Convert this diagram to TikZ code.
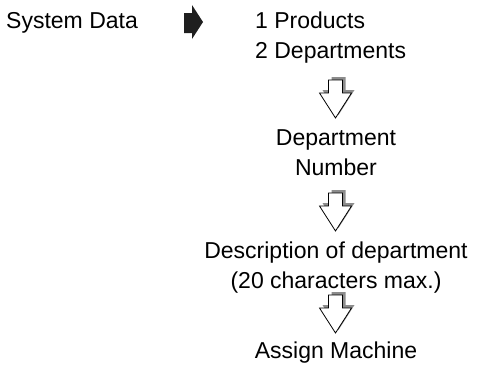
\documentclass[tikz,border=0pt]{standalone}
\usepackage{fontspec}
\setmainfont{Liberation Sans}
\begin{document}
\begin{tikzpicture}[x=1pt,y=-1pt,
  txt/.style={font=\fontsize{23}{27.6}\selectfont, inner sep=0pt},
  hollowarrow/.pic={
    \fill[black!45, shift={(3,-3)}] (-7,0) -- (7,0) -- (7,13) -- (16,13) -- (0,38) -- (-16,13) -- (-7,13) -- cycle;
    \draw[fill=white, line width=0.8pt, line join=miter] (-7,0) -- (7,0) -- (7,13) -- (16,13) -- (0,38) -- (-16,13) -- (-7,13) -- cycle;
  },
  solidarrow/.pic={
    \fill[black!88] (0,-4) -- (8,-4) -- (8,-12) -- (19,5) -- (8,22) -- (8,16) -- (0,16) -- cycle;
  }]
\useasboundingbox (0,0) rectangle (477,365);
\node[txt, anchor=base west] (sys) at (6,28) {System Data};
\node[txt, anchor=base west] (l1) at (255,28) {1 Products};
\node[txt, anchor=base west] (l2) at (255,58) {2 Departments};
\node[txt, anchor=base] (dep) at (336,145) {Department};
\node[txt, anchor=base] (num) at (336,175) {Number};
\node[txt, anchor=base] (desc) at (336,258) {Description of department};
\node[txt, anchor=base] (max) at (336,288) {(20 characters max.)};
\node[txt, anchor=base] (asg) at (336,358) {Assign Machine};
\coordinate (s0) at (184,17);
\coordinate (a1) at (335.5,80);
\coordinate (a2) at (335.5,193);
\coordinate (a3) at (335.5,295);
\pic at (s0) {solidarrow};
\pic at (a1) {hollowarrow};
\pic at (a2) {hollowarrow};
\pic at (a3) {hollowarrow};
\end{tikzpicture}
\end{document}
